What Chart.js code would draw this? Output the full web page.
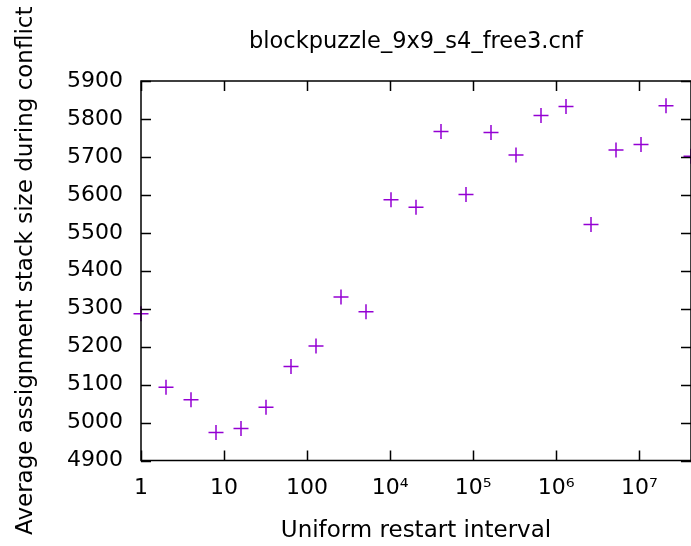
<!DOCTYPE html>
<html>
<head>
<meta charset="utf-8">
<title>blockpuzzle_9x9_s4_free3.cnf</title>
<script src="https://cdn.jsdelivr.net/npm/chart.js@4.4.1/dist/chart.umd.min.js"></script>
<style>
  html, body { margin: 0; padding: 0; background: #fff; overflow: hidden; }
  #wrap { width: 700px; height: 546px; }
</style>
</head>
<body>
<div id="wrap"><canvas id="grafico" width="700" height="546"></canvas></div>
<script>
// restart interval (powers of two) and the measured average stack size
const intervalos = [1, 2, 4, 8, 16, 32, 64, 128, 256, 512, 1024, 2048, 4096, 8192,
  16384, 32768, 65536, 131072, 262144, 524288, 1048576, 2097152, 4194304];
const tamPila = [5287, 5093, 5060, 4974, 4984, 5040, 5148, 5202, 5331, 5292, 5587,
  5567, 5767, 5601, 5764, 5705, 5809, 5833, 5522, 5718, 5733, 5835, 5702];

// x tick positions and the text printed under each one
const ticksX = [1, 10, 100, 1000, 10000, 100000, 1000000];
const etiquetasX = ['1', '10', '100', '10\u2074', '10\u2075', '10\u2076', '10\u2077'];

const FUENTE = "'DejaVu Sans', sans-serif";

// frame around the plot with inward ticks on all four sides
const marco = {
  id: 'marco',
  afterDraw(chart) {
    const { ctx, chartArea: a, scales } = chart;
    const largo = 10;
    ctx.save();
    ctx.strokeStyle = '#000';
    ctx.lineWidth = 1.5;
    ctx.strokeRect(a.left, a.top, a.right - a.left, a.bottom - a.top);
    ctx.beginPath();
    scales.x.ticks.forEach(t => {
      const px = Math.round(scales.x.getPixelForValue(t.value)) + 0.5;
      ctx.moveTo(px, a.bottom); ctx.lineTo(px, a.bottom - largo);
      ctx.moveTo(px, a.top); ctx.lineTo(px, a.top + largo);
    });
    scales.y.ticks.forEach(t => {
      const py = Math.round(scales.y.getPixelForValue(t.value)) + 0.5;
      ctx.moveTo(a.left, py); ctx.lineTo(a.left + largo, py);
      ctx.moveTo(a.right, py); ctx.lineTo(a.right - largo, py);
    });
    ctx.stroke();
    ctx.restore();
  }
};

const datos = {
  datasets: [{
    data: intervalos.map((x, i) => ({ x: x, y: tamPila[i] })),
    showLine: false,
    pointStyle: 'cross',
    pointRadius: 7.5,
    pointHoverRadius: 7.5,
    pointBorderWidth: 1.5,
    borderColor: '#9400d3',
    backgroundColor: '#9400d3',
    clip: false
  }]
};

const configuracion = {
  type: 'scatter',
  data: datos,
  plugins: [marco],
  options: {
    responsive: false,
    animation: false,
    events: [],
    layout: { padding: { left: 0, right: 7, top: 0, bottom: 0 } },
    plugins: {
      legend: { display: false },
      tooltip: { enabled: false },
      title: {
        display: true,
        fullSize: false,
        text: 'blockpuzzle_9x9_s4_free3.cnf',
        color: '#000',
        font: { family: FUENTE, size: 22.5, weight: 'normal' },
        padding: { top: 28.5, bottom: 25.5 }
      }
    },
    scales: {
      x: {
        type: 'logarithmic',
        min: 1,
        max: 4194304,
        afterBuildTicks: s => { s.ticks = ticksX.map(v => ({ value: v })); },
        afterFit: s => { s.height = 85.5; },
        grid: { display: false, drawTicks: false },
        border: { display: false },
        ticks: {
          color: '#000',
          padding: 15,
          maxRotation: 0,
          autoSkip: false,
          font: { family: FUENTE, size: 22 },
          callback: (v, i) => etiquetasX[i]
        },
        title: {
          display: true,
          text: 'Uniform restart interval',
          color: '#000',
          font: { family: FUENTE, size: 23 },
          padding: { top: 0, bottom: 1 }
        }
      },
      y: {
        min: 4900,
        max: 5900,
        afterFit: s => { s.width = 141; },
        grid: { display: false, drawTicks: false },
        border: { display: false },
        ticks: {
          stepSize: 100,
          color: '#000',
          padding: 18,
          font: { family: FUENTE, size: 22 },
          callback: v => String(v)
        },
        title: {
          display: true,
          text: 'Average assignment stack size during conflict',
          color: '#000',
          font: { family: FUENTE, size: 23 },
          padding: { top: 12, bottom: 0 }
        }
      }
    }
  }
};

new Chart(document.getElementById('grafico').getContext('2d'), configuracion);
</script>
</body>
</html>
